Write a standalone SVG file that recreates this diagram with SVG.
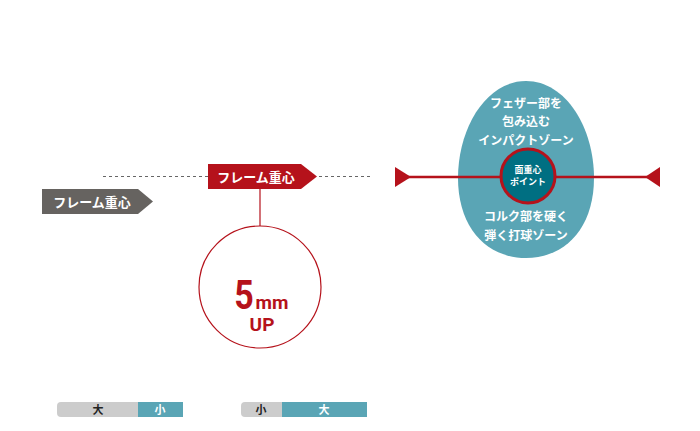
<svg xmlns="http://www.w3.org/2000/svg" width="700" height="431" viewBox="0 0 700 431">
<style>
text{font-family:"Noto Sans CJK JP","Noto Sans",sans-serif;font-weight:bold;text-anchor:middle}
.w{fill:#ffffff}
.lbl{font-size:13px}
.zone{font-size:12px}
.bar{font-size:11px}
</style>
<rect width="700" height="431" fill="#ffffff"/>
<g id="connectors">
<line x1="103" y1="176.5" x2="373" y2="176.5" stroke="#666" stroke-width="1" stroke-dasharray="3,3"/>
<line x1="260" y1="189" x2="260" y2="226" stroke="#b5121b" stroke-width="1.2"/>
</g>
<g id="gray-label">
<polygon points="42,189 138,189 153,201.5 138,214 42,214" fill="#666360"/>
<text x="92" y="206.5" class="lbl w">フレーム重心</text>
</g>
<g id="red-label">
<polygon points="208,164 301,164 317,176.5 301,189 208,189" fill="#b5121b"/>
<text x="256" y="181.5" class="lbl w">フレーム重心</text>
</g>
<g id="circle-5mm">
<circle cx="260" cy="287" r="61" fill="#ffffff" stroke="#b5121b" stroke-width="1.2"/>
<text x="244" y="309" fill="#b5121b" font-size="40" transform="translate(244 309) scale(0.85 1) translate(-244 -309)" style="font-family:'Roboto','Liberation Sans',sans-serif">5</text>
<text x="272" y="309" fill="#b5121b" font-size="19" style="font-family:'Roboto','Liberation Sans',sans-serif">mm</text>
<text x="262" y="331" fill="#b5121b" font-size="19" style="font-family:'Roboto','Liberation Sans',sans-serif">UP</text>
</g>
<g id="impact-zone">
<path d="M526,81 C566,81 594,128 594,178 C594,228 565,258 526,258 C487,258 458,228 458,178 C458,128 486,81 526,81 Z" fill="#5aa5b5"/>
<text x="526" y="107.5" class="zone w">フェザー部を</text>
<text x="526" y="126" class="zone w">包み込む</text>
<text x="526" y="144.5" class="zone w">インパクトゾーン</text>
<text x="526" y="221" class="zone w">コルク部を硬く</text>
<text x="526" y="239.5" class="zone w">弾く打球ゾーン</text>
</g>
<g id="axis">
<line x1="408" y1="177" x2="648" y2="177" stroke="#b5121b" stroke-width="2.5"/>
<polygon points="395,167 411,177 395,187" fill="#b5121b"/>
<polygon points="660,167 645,177 660,187" fill="#b5121b"/>
</g>
<g id="center-point">
<circle cx="528" cy="176" r="27" fill="#006f82" stroke="#b5121b" stroke-width="3"/>
<text x="528" y="172.5" font-size="9" class="w">面重心</text>
<text x="528" y="184.5" font-size="9" class="w">ポイント</text>
</g>
<g id="bar-left">
<path d="M61,402 H138 V417 H61 A4,4 0 0 1 57,413 V406 A4,4 0 0 1 61,402 Z" fill="#cccccc"/>
<rect x="138" y="402" width="45" height="15" fill="#5aa5b5"/>
<text x="98" y="413.5" class="bar" fill="#222">大</text>
<text x="160" y="413.5" class="bar w">小</text>
</g>
<g id="bar-right">
<path d="M245,402 H282 V417 H245 A4,4 0 0 1 241,413 V406 A4,4 0 0 1 245,402 Z" fill="#cccccc"/>
<rect x="282" y="402" width="85" height="15" fill="#5aa5b5"/>
<text x="261" y="413.5" class="bar" fill="#222">小</text>
<text x="324" y="413.5" class="bar w">大</text>
</g>
</svg>
